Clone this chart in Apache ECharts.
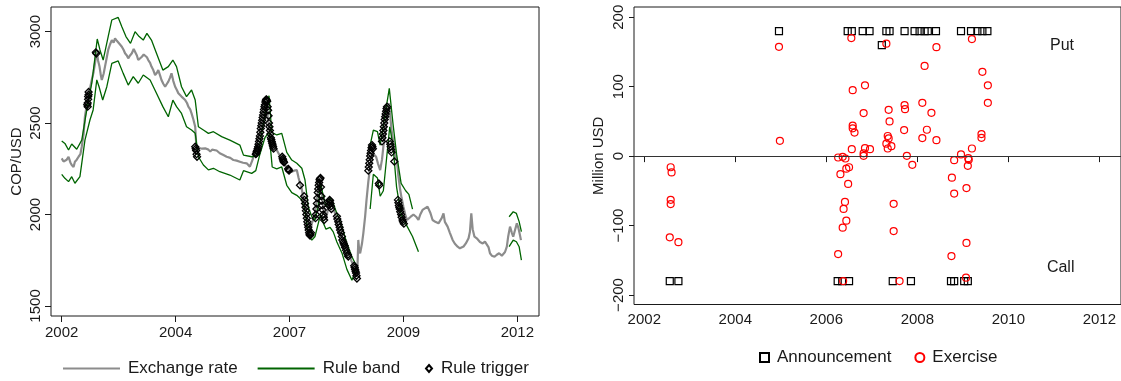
<!DOCTYPE html>
<html>
<head>
<meta charset="utf-8">
<script src="https://cdn.jsdelivr.net/npm/echarts@6/dist/echarts.min.js"></script>
<style>
html,body{margin:0;padding:0;background:#fff;}
#chart{width:1121px;height:381px;}
</style>
</head>
<body>
<div id="chart"></div>
<script>
// ---------- Left panel: exchange rate, rule band, triggers ----------
const rateX = [2002.00,2002.04,2002.07,2002.11,2002.15,2002.19,2002.22,2002.26,2002.29,2002.33,2002.37,2002.41,2002.44,2002.48,2002.51,2002.55,2002.58,2002.62,2002.66,2002.70,2002.73,2002.77,2002.80,2002.83,2002.86,2002.88,2002.92,2002.95,2002.99,2003.02,2003.06,2003.10,2003.14,2003.17,2003.21,2003.24,2003.28,2003.32,2003.36,2003.39,2003.43,2003.46,2003.50,2003.54,2003.58,2003.61,2003.65,2003.68,2003.72,2003.76,2003.80,2003.83,2003.87,2003.90,2003.94,2003.97,2004.01,2004.05,2004.09,2004.12,2004.16,2004.19,2004.23,2004.27,2004.31,2004.34,2004.38,2004.41,2004.45,2004.49,2004.53,2004.56,2004.60,2004.63,2004.67,2004.71,2004.75,2004.78,2004.82,2004.85,2004.89,2004.93,2004.96,2005.00,2005.04,2005.08,2005.11,2005.15,2005.18,2005.22,2005.26,2005.30,2005.33,2005.40,2005.47,2005.55,2005.62,2005.70,2005.77,2005.84,2005.91,2005.98,2006.06,2006.13,2006.19,2006.24,2006.30,2006.35,2006.39,2006.43,2006.46,2006.48,2006.51,2006.54,2006.58,2006.61,2006.66,2006.72,2006.77,2006.83,2006.88,2006.94,2006.99,2007.05,2007.10,2007.16,2007.20,2007.23,2007.27,2007.30,2007.34,2007.38,2007.41,2007.44,2007.47,2007.49,2007.53,2007.56,2007.60,2007.63,2007.66,2007.68,2007.71,2007.74,2007.77,2007.80,2007.85,2007.89,2007.93,2007.96,2008.00,2008.04,2008.07,2008.11,2008.15,2008.18,2008.22,2008.26,2008.29,2008.33,2008.36,2008.40,2008.43,2008.46,2008.49,2008.51,2008.53,2008.55,2008.59,2008.62,2008.66,2008.69,2008.73,2008.77,2008.80,2008.83,2008.87,2008.90,2008.94,2008.99,2009.03,2009.06,2009.10,2009.13,2009.15,2009.18,2009.21,2009.24,2009.27,2009.30,2009.32,2009.36,2009.39,2009.43,2009.46,2009.50,2009.54,2009.58,2009.61,2009.66,2009.72,2009.76,2009.79,2009.83,2009.87,2009.92,2009.98,2010.03,2010.09,2010.14,2010.20,2010.27,2010.34,2010.38,2010.41,2010.47,2010.52,2010.58,2010.63,2010.69,2010.74,2010.78,2010.82,2010.87,2010.93,2010.96,2010.99,2011.02,2011.06,2011.11,2011.15,2011.18,2011.24,2011.29,2011.33,2011.37,2011.40,2011.44,2011.50,2011.55,2011.60,2011.66,2011.70,2011.73,2011.77,2011.80,2011.84,2011.88,2011.91,2011.95,2011.99,2012.02,2012.05,2012.08];
const rateY = [2307,2290,2280,2300,2316,2285,2271,2260,2289,2300,2316,2330,2371,2440,2535,2600,2645,2690,2736,2780,2827,2891,2840,2809,2760,2736,2770,2809,2860,2900,2930,2954,2940,2964,2950,2954,2930,2918,2900,2882,2870,2854,2870,2882,2905,2900,2870,2845,2850,2863,2875,2882,2860,2845,2830,2809,2790,2763,2775,2790,2760,2736,2715,2699,2715,2727,2750,2772,2730,2699,2680,2663,2655,2645,2640,2626,2610,2590,2575,2553,2520,2480,2353,2365,2371,2360,2353,2362,2371,2355,2344,2355,2362,2350,2335,2325,2316,2310,2298,2295,2289,2283,2280,2262,2300,2353,2400,2444,2500,2553,2600,2636,2560,2499,2430,2398,2370,2353,2330,2307,2285,2253,2245,2234,2240,2243,2200,2171,2140,2089,2040,1988,1940,1888,1920,1952,1980,2006,2080,2152,2180,2198,2120,2043,2010,1970,2040,2079,2060,2043,2005,1970,1940,1906,1880,1861,1830,1806,1790,1769,1745,1724,1690,1660,1700,1861,1800,1788,1840,1897,1990,2079,2180,2262,2300,2335,2325,2316,2280,2243,2300,2371,2440,2517,2580,2608,2540,2462,2410,2371,2330,2289,2210,2134,2090,2043,2000,1970,1980,1988,2000,2006,1985,1970,2000,2025,2035,2043,2010,1970,1960,1952,1980,2006,1960,1934,1900,1861,1840,1824,1815,1806,1825,1842,1870,1906,2006,1920,1879,1870,1861,1850,1842,1852,1861,1820,1788,1775,1769,1780,1788,1775,1769,1795,1824,1880,1934,1900,1879,1915,1952,1930,1897,1860,1824];

const upperX = [2002.00,2002.07,2002.15,2002.22,2002.33,2002.44,2002.55,2002.66,2002.78,2002.84,2002.91,2003.02,2003.10,2003.24,2003.32,2003.41,2003.51,2003.61,2003.70,2003.79,2003.87,2003.97,2004.08,2004.22,2004.34,2004.44,2004.52,2004.63,2004.74,2004.85,2004.93,2005.00,2005.11,2005.22,2005.33,2005.51,2005.69,2005.91,2005.99,2006.17,2006.26,2006.33,2006.43,2006.50,2006.55,2006.61,2006.72,2006.83,2006.94,2007.05,2007.16,2007.27,2007.34,2007.41,2007.49,2007.56,2007.63,2007.68,2007.73,2007.80,2007.89,2007.96,2008.04,2008.15,2008.26,2008.37,2008.46,2008.60,2008.77,2008.84,2008.93,2008.99,2009.10,2009.19,2009.27,2009.35,2009.45,2009.55,2009.62,2009.70,2010.5,2011.82,2011.91,2011.98,2012.04,2012.09];
const upperY = [2402,2389,2353,2386,2357,2407,2572,2718,2960,2900,2845,2973,3064,3078,3027,2973,2936,3000,2973,2954,2991,2954,2882,2790,2809,2845,2809,2699,2645,2681,2626,2480,2462,2444,2453,2426,2407,2380,2325,2316,2320,2360,2500,2600,2650,2450,2435,2444,2340,2298,2280,2253,2189,2043,1988,1970,2043,2171,2116,2043,2089,2061,2006,1934,1842,1769,1724,null,2380,2462,2453,2380,2550,2690,2500,2330,2170,2130,2110,2030,null,1988,2015,2006,1961,1906];

const lowerX = [2002.00,2002.07,2002.15,2002.22,2002.29,2002.40,2002.51,2002.62,2002.69,2002.77,2002.82,2002.90,2002.99,2003.10,2003.24,2003.35,2003.46,2003.57,2003.68,2003.79,2003.94,2004.08,2004.22,2004.34,2004.44,2004.52,2004.63,2004.74,2004.85,2004.93,2005.00,2005.11,2005.22,2005.33,2005.47,2005.69,2005.91,2005.99,2006.17,2006.26,2006.35,2006.46,2006.55,2006.62,2006.72,2006.83,2006.94,2007.05,2007.16,2007.27,2007.34,2007.41,2007.49,2007.56,2007.63,2007.68,2007.73,2007.80,2007.89,2007.96,2008.04,2008.15,2008.26,2008.37,2008.46,2008.60,2008.77,2008.84,2008.93,2008.99,2009.06,2009.20,2009.27,2009.35,2009.45,2009.55,2009.70,2009.83,2010.5,2011.82,2011.91,2011.98,2012.04,2012.09];
const lowerY = [2220,2198,2180,2207,2171,2207,2407,2517,2572,2736,2699,2626,2699,2827,2840,2772,2708,2754,2718,2763,2736,2663,2590,2535,2626,2590,2553,2480,2462,2444,2316,2271,2244,2253,2234,2216,2189,2240,2225,2240,2330,2420,2450,2260,2250,2260,2160,2120,2105,2080,2020,1890,1860,1880,1950,2000,1960,1920,1930,1905,1850,1790,1700,1640,1700,null,2030,2220,2200,2100,2130,2480,2380,2150,2000,1950,1880,1797,null,1824,1860,1851,1824,1751];

const trigX = [2002.56,2002.57,2002.57,2002.58,2002.58,2002.59,2002.59,2002.75,2002.76,2004.93,2004.94,2004.95,2004.96,2004.97,2006.26,2006.27,2006.28,2006.29,2006.30,2006.31,2006.32,2006.33,2006.34,2006.35,2006.36,2006.37,2006.38,2006.39,2006.40,2006.41,2006.42,2006.43,2006.44,2006.45,2006.46,2006.47,2006.48,2006.49,2006.50,2006.51,2006.52,2006.53,2006.54,2006.55,2006.56,2006.57,2006.58,2006.59,2006.60,2006.61,2006.62,2006.63,2006.64,2006.65,2006.84,2006.85,2006.86,2006.87,2006.88,2006.97,2006.98,2006.99,2007.23,2007.32,2007.33,2007.34,2007.35,2007.36,2007.37,2007.38,2007.39,2007.40,2007.41,2007.42,2007.43,2007.44,2007.45,2007.46,2007.47,2007.57,2007.58,2007.59,2007.60,2007.61,2007.62,2007.63,2007.64,2007.65,2007.66,2007.67,2007.68,2007.69,2007.70,2007.71,2007.72,2007.73,2007.74,2007.75,2007.76,2007.86,2007.87,2007.88,2007.89,2007.90,2007.91,2007.92,2008.04,2008.05,2008.07,2008.08,2008.10,2008.11,2008.13,2008.15,2008.16,2008.18,2008.19,2008.21,2008.22,2008.24,2008.26,2008.28,2008.29,2008.42,2008.43,2008.44,2008.45,2008.46,2008.47,2008.48,2008.73,2008.74,2008.75,2008.76,2008.77,2008.78,2008.79,2008.80,2008.81,2008.82,2008.83,2008.96,2008.97,2009.03,2009.04,2009.05,2009.06,2009.07,2009.08,2009.09,2009.10,2009.11,2009.12,2009.13,2009.14,2009.20,2009.21,2009.22,2009.23,2009.24,2009.30,2009.38,2009.39,2009.40,2009.41,2009.42,2009.43,2009.45,2009.46,2009.48,2009.49,2009.51];
const trigY = [2600,2590,2610,2630,2645,2655,2670,2887,2880,2371,2360,2350,2330,2316,2330,2335,2345,2350,2360,2370,2385,2400,2415,2430,2450,2470,2485,2500,2515,2530,2545,2560,2575,2590,2600,2615,2625,2630,2625,2620,2590,2570,2540,2500,2480,2460,2440,2420,2410,2400,2390,2380,2370,2360,2316,2305,2298,2290,2285,2250,2245,2240,2160,2100,2080,2060,2040,2020,2000,1980,1960,1945,1930,1915,1900,1890,1885,1890,1900,1980,2000,2030,2060,2090,2120,2140,2160,2175,2190,2195,2200,2150,2100,2075,2050,2025,2000,1985,1970,2050,2065,2080,2075,2060,2045,2030,1990,1975,1960,1945,1930,1915,1900,1880,1860,1850,1840,1830,1820,1805,1790,1780,1770,1720,1710,1700,1690,1680,1665,1650,2240,2260,2280,2300,2320,2335,2350,2365,2380,2370,2360,2170,2160,2400,2420,2440,2460,2480,2500,2520,2535,2550,2565,2580,2590,2400,2385,2370,2355,2340,2290,2080,2065,2050,2040,2030,2015,2000,1985,1970,1960,1950];

const leftXTickValues = [2002, 2004.5, 2007, 2009.5, 2012];
const leftXTickLabels = ['2002', '2004', '2007', '2009', '2012'];
const leftYTicks = [1500, 2000, 2500, 3000];

// ---------- Right panel: interventions ----------
const annX = [2004.96,2006.47,2006.56,2006.80,2006.95,2007.32,2007.39,2007.72,2007.94,2008.05,2008.16,2008.23,2008.41,2008.96,2009.18,2009.32,2009.43,2009.54,2007.22,
              2002.56,2002.75,2006.25,2006.35,2006.50,2007.46,2007.86,2008.74,2008.81,2009.03,2009.11];
const annY = [180,180,180,180,180,180,180,180,180,180,180,180,180,180,180,180,180,180,160,
              -180,-180,-180,-180,-180,-180,-180,-180,-180,-180,-180];

const exX = [2002.58,2002.60,2002.58,2002.58,2002.56,2002.75,2004.96,2004.98,2006.26,2006.36,2006.42,2006.31,2006.44,2006.50,2006.48,2006.41,2006.38,2006.44,2006.36,2006.26,2006.37,2006.55,2006.58,2006.58,2006.58,2006.62,2006.56,2006.85,2006.82,2006.85,2006.82,2006.82,2006.96,2007.32,2007.37,2007.39,2007.35,2007.37,2007.32,2007.43,2007.35,2007.48,2007.48,2007.61,2007.72,2007.73,2007.71,2007.77,2007.89,2008.11,2008.16,2008.31,2008.21,2008.11,2008.42,2008.42,2008.76,2008.81,2008.81,2008.75,2008.96,2009.08,2009.08,2009.07,2009.12,2009.13,2009.11,2009.20,2009.20,2009.43,2009.55,2009.55,2009.41,2009.41];
const exY = [-16,-23.5,-63,-69,-117,-124,157.5,22,-2,-1,-3.4,-26,-18,-16,-40,-66,-76,-93,-103,-141,-180,170,95,44,40,34,10,102,62,11.5,4,0.5,10,162,66.7,50,29,25.5,18,14.4,11,-68.7,-108,-180,73.5,67.7,37.5,0.5,-12.5,76.8,130,62.4,38,26,157,23,-31,-54,-5.8,-144,2.4,-46,-125,-175,-2.9,-5.3,-14,168.6,11,121.5,102,76.8,31.7,26.4];

const noteText = ['Put', 'Call'];
const noteX = [2011.18, 2011.15];
const noteY = [159, -161];

const rightXTicks = [2002, 2004, 2006, 2008, 2010, 2012];
const rightYTicks = [-200, -100, 0, 100, 200];

// ---------- build ----------
const FONT = 'Liberation Sans, Arial, Helvetica, sans-serif';
const INK = '#1a1a1a';
const pairs = (xs, ys) => xs.map((x, i) => [x, ys[i] === null ? '-' : ys[i]]);

const chart = echarts.init(document.getElementById('chart'), null, {renderer: 'canvas'});

const axisCommon = {
  axisLine: {show: false},
  splitLine: {show: false},
  axisTick: {show: true, inside: false, lineStyle: {color: INK, width: 1}},
  axisLabel: {color: INK, fontFamily: FONT, fontSize: 15},
  nameTextStyle: {color: INK, fontFamily: FONT, fontSize: 15}
};

const legendText = {color: INK, fontFamily: FONT, fontSize: 17};

const option = {
  animation: false,
  backgroundColor: '#ffffff',
  textStyle: {fontFamily: FONT},
  grid: [
    {left: 51, top: 7, width: 488, height: 309, show: true, borderColor: INK, borderWidth: 1, backgroundColor: 'transparent'},
    {left: 634, top: 7, width: 488, height: 297.5, show: true, borderColor: INK, borderWidth: 1, backgroundColor: 'transparent'}
  ],
  xAxis: [
    Object.assign({}, axisCommon, {
      type: 'value', gridIndex: 0, min: 2001.765, max: 2012.476,
      axisTick: Object.assign({}, axisCommon.axisTick, {length: 6, customValues: leftXTickValues}),
      axisLabel: Object.assign({}, axisCommon.axisLabel, {margin: 9, customValues: leftXTickValues,
        formatter: v => leftXTickLabels[leftXTickValues.indexOf(v)]})
    }),
    Object.assign({}, axisCommon, {
      type: 'value', gridIndex: 1, min: 2001.774, max: 2012.476,
      axisTick: Object.assign({}, axisCommon.axisTick, {length: 6, customValues: rightXTicks}),
      axisLabel: Object.assign({}, axisCommon.axisLabel, {margin: 8, customValues: rightXTicks,
        formatter: v => String(v)})
    })
  ],
  yAxis: [
    Object.assign({}, axisCommon, {
      type: 'value', gridIndex: 0, min: 1445, max: 3135,
      name: 'COP/USD', nameLocation: 'middle', nameGap: 27,
      axisTick: Object.assign({}, axisCommon.axisTick, {length: 6, customValues: leftYTicks}),
      axisLabel: Object.assign({}, axisCommon.axisLabel, {rotate: 90, margin: 8, customValues: leftYTicks,
        formatter: v => String(v)})
    }),
    Object.assign({}, axisCommon, {
      type: 'value', gridIndex: 1, min: -213.7, max: 214.8,
      name: 'Million USD', nameLocation: 'middle', nameGap: 28,
      axisTick: Object.assign({}, axisCommon.axisTick, {length: 5, customValues: rightYTicks}),
      axisLabel: Object.assign({}, axisCommon.axisLabel, {rotate: 90, margin: 8, customValues: rightYTicks,
        formatter: v => (v < 0 ? '\u2212' + Math.abs(v) : String(v))})
    })
  ],
  legend: [
    {data: ['Exchange rate', 'Rule band'], left: 63, top: 360, padding: 0, icon: 'rect', itemWidth: 57, itemHeight: 2, itemGap: 20,
     textStyle: Object.assign({padding: [0, 0, 0, 3]}, legendText), selectedMode: false},
    {data: ['Rule trigger'], left: 425, top: 360, padding: 0, itemWidth: 6, itemHeight: 7,
     textStyle: Object.assign({padding: [0, 0, 0, 4]}, legendText), selectedMode: false},
    {data: ['Announcement', 'Exercise'], left: 759, top: 349, padding: 0, itemWidth: 9, itemHeight: 9, itemGap: 23,
     textStyle: Object.assign({padding: [0, 0, 0, 3]}, legendText), selectedMode: false}
  ],
  series: [
    {name: 'Exchange rate', type: 'line', xAxisIndex: 0, yAxisIndex: 0, symbol: 'none',
     data: pairs(rateX, rateY), lineStyle: {color: '#8c8c8c', width: 2.2}, itemStyle: {color: '#8c8c8c'}, z: 2},
    {name: 'Rule band', type: 'line', xAxisIndex: 0, yAxisIndex: 0, symbol: 'none', connectNulls: false,
     data: pairs(upperX, upperY), lineStyle: {color: '#006400', width: 1.3}, itemStyle: {color: '#006400'}, z: 3},
    {name: 'Rule band', type: 'line', xAxisIndex: 0, yAxisIndex: 0, symbol: 'none', connectNulls: false,
     data: pairs(lowerX, lowerY), lineStyle: {color: '#006400', width: 1.3}, itemStyle: {color: '#006400'}, z: 3},
    {name: 'Rule trigger', type: 'scatter', xAxisIndex: 0, yAxisIndex: 0, symbol: 'diamond', symbolSize: 7,
     data: pairs(trigX, trigY), itemStyle: {color: 'rgba(0,0,0,0)', borderColor: '#000', borderWidth: 1.3, opacity: 1}, z: 4},
    {name: 'Announcement', type: 'scatter', xAxisIndex: 1, yAxisIndex: 1, symbol: 'rect', symbolSize: 7,
     data: pairs(annX, annY), itemStyle: {color: 'rgba(0,0,0,0)', borderColor: '#000', borderWidth: 1.2, opacity: 1}, z: 3},
    {name: 'Exercise', type: 'scatter', xAxisIndex: 1, yAxisIndex: 1, symbol: 'circle', symbolSize: 7,
     data: pairs(exX, exY), itemStyle: {color: 'rgba(0,0,0,0)', borderColor: '#ff0000', borderWidth: 1.2, opacity: 1}, z: 4,
     markLine: {silent: true, symbol: 'none', label: {show: false},
       lineStyle: {color: '#333', width: 1, type: 'solid'}, data: [{yAxis: 0}]}},
    {name: 'notes', type: 'scatter', xAxisIndex: 1, yAxisIndex: 1, symbolSize: 0,
     itemStyle: {opacity: 1},
     data: noteX.map((x, i) => ({value: [x, noteY[i]], name: noteText[i]})),
     label: {show: true, position: 'inside', formatter: p => p.name, color: INK, fontFamily: FONT, fontSize: 16,
       textBorderWidth: 0, textShadowBlur: 0}}
  ]
};
chart.setOption(option);
</script>
</body>
</html>
